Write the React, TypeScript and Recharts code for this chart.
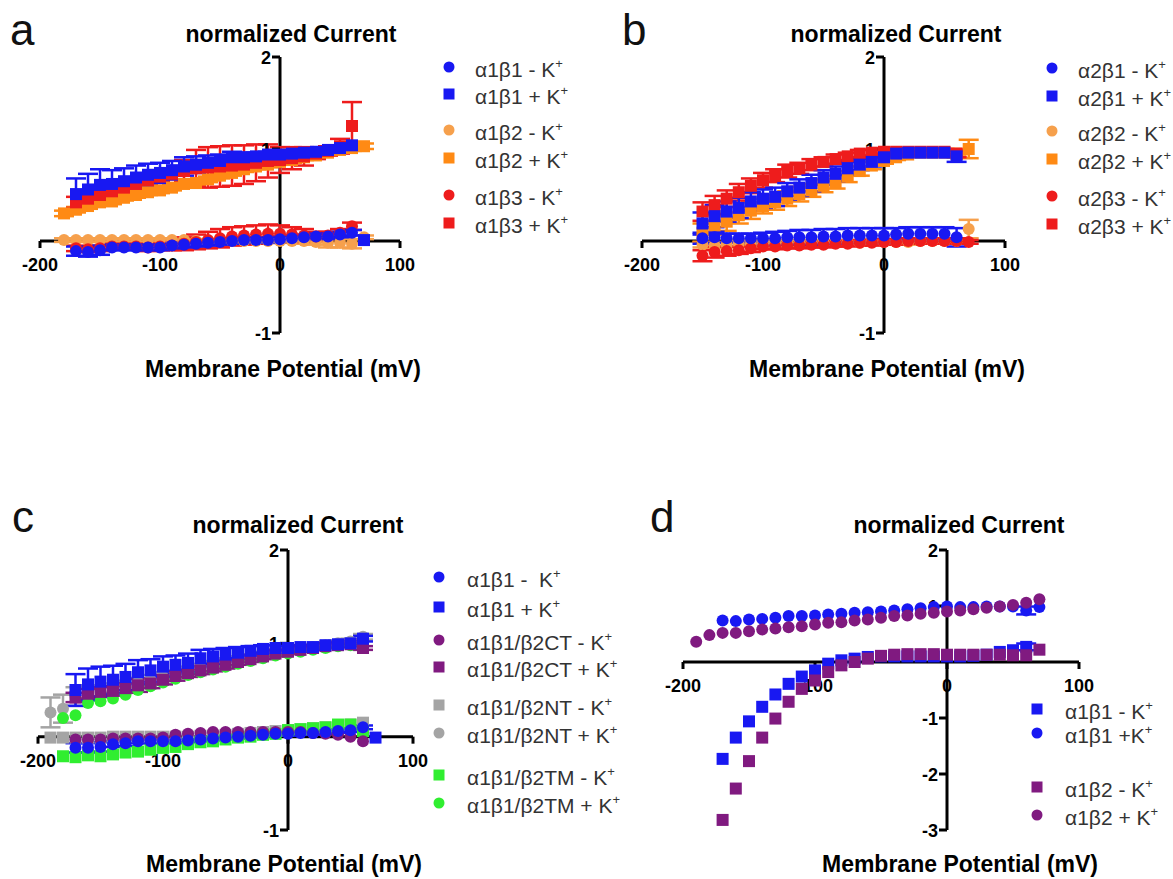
import React from 'react';
import { ScatterChart, Scatter, XAxis, YAxis, ReferenceLine, ReferenceDot, ErrorBar } from 'recharts';

const FONT = '"Liberation Sans", Arial, Helvetica, sans-serif';

const BLUE = '#1818f2';
const ORANGE_C = '#f6a04c';
const ORANGE_S = '#ff8a14';
const RED = '#ee1c1c';
const PURPLE = '#801a80';
const GRAY = '#a4a4a4';
const GREEN = '#30ee30';

type Shape = 'circle' | 'square';
type Series = {
  label: string;
  color: string;
  shape: Shape;
  values: (number | null)[];
  errors?: number[];
};

// membrane potential steps (mV)
const mvA = [-180, -170, -160, -150, -140, -130, -120, -110, -100, -90, -80, -70, -60, -50, -40, -30, -20, -10, 0, 10, 20, 30, 40, 50, 60, 70];
const mvB = [-150, -140, -130, -120, -110, -100, -90, -80, -70, -60, -50, -40, -30, -20, -10, 0, 10, 20, 30, 40, 50, 60, 70];
const mvC = [-190, -180, -170, -160, -150, -140, -130, -120, -110, -100, -90, -80, -70, -60, -50, -40, -30, -20, -10, 0, 10, 20, 30, 40, 50, 60, 70];
const mvD = [-190, -180, -170, -160, -150, -140, -130, -120, -110, -100, -90, -80, -70, -60, -50, -40, -30, -20, -10, 0, 10, 20, 30, 40, 50, 60, 70];

const xTicks = [-200, -100, 0, 100];
const yTicksABC = [2, 1, -1];
const yTicksD = [2, 1, -1, -2, -3];

// panel a
const a1b1MinusA = [null, -0.11, -0.12, -0.1, -0.07, -0.07, -0.07, -0.07, -0.07, -0.05, -0.04, -0.03, -0.02, -0.01, 0.0, 0.01, 0.01, 0.01, 0.02, 0.03, 0.04, 0.05, 0.05, 0.07, 0.09, null];
const a1b1MinusAErr = [0, 0.05, 0.05, 0.05, 0.03, 0.03, 0.03, 0.03, 0.03, 0.03, 0.03, 0.03, 0.03, 0.03, 0.03, 0.03, 0.03, 0.03, 0.03, 0.03, 0.03, 0.03, 0.03, 0.03, 0.03, 0];
const a1b1PlusA = [null, 0.51, 0.56, 0.61, 0.62, 0.65, 0.69, 0.72, 0.74, 0.77, 0.81, 0.83, 0.85, 0.87, 0.91, 0.91, 0.92, 0.94, 0.94, 0.95, 0.96, 0.97, 0.99, 1.01, 1.04, 0.01];
const a1b1PlusAErr = [0, 0.17, 0.17, 0.17, 0.15, 0.14, 0.13, 0.12, 0.11, 0.1, 0.1, 0.09, 0.08, 0.07, 0.06, 0.05, 0.04, 0.03, 0.02, 0.02, 0.02, 0.02, 0.02, 0.03, 0.03, 0];
const a1b2MinusA = [0.01, 0.01, 0.01, 0.01, 0.01, 0.01, 0.01, 0.01, 0.01, 0.01, 0.01, 0.0, 0.0, 0.0, 0.0, 0.0, 0.0, 0.0, 0.0, 0.0, 0.0, -0.01, -0.02, -0.02, -0.03, 0.04];
const a1b2MinusAErr = [0.02, 0.02, 0.02, 0.02, 0.02, 0.02, 0.02, 0.02, 0.02, 0.02, 0.02, 0.02, 0.02, 0.02, 0.02, 0.02, 0.02, 0.02, 0.02, 0.02, 0.03, 0.03, 0.05, 0.05, 0.05, 0.02];
const a1b2PlusA = [0.3, 0.34, 0.38, 0.42, 0.43, 0.47, 0.5, 0.53, 0.55, 0.58, 0.62, 0.63, 0.67, 0.71, 0.74, 0.78, 0.81, 0.83, 0.86, 0.88, 0.91, 0.93, 0.96, 0.99, 1.01, 1.03];
const a1b2PlusAErr = [0.03, 0.03, 0.03, 0.03, 0.03, 0.03, 0.03, 0.03, 0.03, 0.03, 0.03, 0.03, 0.03, 0.03, 0.03, 0.03, 0.03, 0.03, 0.03, 0.03, 0.03, 0.03, 0.03, 0.03, 0.03, 0.03];
const a1b3MinusA = [null, -0.08, -0.09, -0.08, -0.06, -0.06, -0.06, -0.07, -0.06, -0.05, -0.03, -0.01, 0.01, 0.03, 0.05, 0.06, 0.07, 0.08, 0.08, 0.07, 0.06, 0.05, 0.06, 0.09, 0.16, null];
const a1b3MinusAErr = [0, 0.03, 0.03, 0.03, 0.03, 0.03, 0.03, 0.04, 0.04, 0.05, 0.07, 0.08, 0.09, 0.1, 0.1, 0.1, 0.1, 0.1, 0.09, 0.08, 0.07, 0.05, 0.04, 0.04, 0.04, 0];
const a1b3PlusA = [null, 0.42, 0.46, 0.5, 0.54, 0.58, 0.62, 0.66, 0.7, 0.73, 0.76, 0.79, 0.8, 0.81, 0.82, 0.83, 0.85, 0.87, 0.88, 0.9, 0.92, 0.95, 0.98, 1.03, 1.25, null];
const a1b3PlusAErr = [0, 0.06, 0.06, 0.06, 0.06, 0.06, 0.06, 0.05, 0.05, 0.06, 0.12, 0.2, 0.22, 0.22, 0.22, 0.21, 0.2, 0.18, 0.14, 0.12, 0.1, 0.06, 0.05, 0.08, 0.26, 0];

// panel b
const a2b1MinusB = [0.03, 0.04, 0.03, 0.03, 0.03, 0.03, 0.03, 0.04, 0.04, 0.04, 0.05, 0.05, 0.06, 0.06, 0.06, 0.06, 0.07, 0.08, 0.08, 0.08, 0.08, 0.04, null];
const a2b1MinusBErr = [0.06, 0.06, 0.05, 0.05, 0.05, 0.06, 0.07, 0.07, 0.08, 0.08, 0.08, 0.08, 0.08, 0.08, 0.08, 0.08, 0.07, 0.07, 0.07, 0.07, 0.07, 0.1, 0];
const a2b1PlusB = [0.19, 0.27, 0.32, 0.36, 0.43, 0.46, 0.48, 0.54, 0.58, 0.63, 0.69, 0.73, 0.79, 0.83, 0.86, 0.91, 0.95, 0.96, 0.96, 0.96, 0.96, 0.92, null];
const a2b1PlusBErr = [0.12, 0.12, 0.11, 0.11, 0.1, 0.1, 0.1, 0.09, 0.09, 0.09, 0.08, 0.08, 0.07, 0.06, 0.05, 0.04, 0.03, 0.02, 0.02, 0.02, 0.03, 0.06, 0];
const a2b2MinusB = [-0.04, -0.05, -0.04, -0.03, -0.03, -0.03, -0.02, -0.02, -0.02, -0.02, -0.02, -0.02, -0.02, -0.02, -0.01, -0.01, -0.01, -0.01, 0.0, 0.0, 0.0, 0.0, 0.13];
const a2b2MinusBErr = [0.03, 0.03, 0.03, 0.03, 0.03, 0.03, 0.03, 0.03, 0.03, 0.03, 0.03, 0.03, 0.03, 0.03, 0.03, 0.03, 0.03, 0.03, 0.03, 0.03, 0.03, 0.03, 0.1];
const a2b2PlusB = [0.09, 0.17, 0.21, 0.28, 0.33, 0.38, 0.42, 0.46, 0.51, 0.55, 0.6, 0.64, 0.7, 0.76, 0.82, 0.87, 0.91, 0.94, 0.96, 0.96, 0.96, 0.95, 1.0];
const a2b2PlusBErr = [0.1, 0.1, 0.1, 0.09, 0.09, 0.08, 0.08, 0.08, 0.08, 0.07, 0.07, 0.07, 0.06, 0.05, 0.04, 0.03, 0.03, 0.02, 0.02, 0.02, 0.02, 0.03, 0.1];
const a2b3MinusB = [-0.16, -0.12, -0.11, -0.1, -0.08, -0.06, -0.06, -0.05, -0.05, -0.04, -0.04, -0.03, -0.03, -0.02, -0.02, -0.01, -0.01, 0.0, 0.0, 0.0, 0.0, 0.0, -0.01];
const a2b3MinusBErr = [0.06, 0.06, 0.05, 0.04, 0.04, 0.03, 0.03, 0.03, 0.03, 0.03, 0.03, 0.03, 0.03, 0.03, 0.03, 0.03, 0.03, 0.03, 0.03, 0.03, 0.03, 0.03, 0.02];
const a2b3PlusB = [0.32, 0.39, 0.46, 0.53, 0.6, 0.66, 0.71, 0.76, 0.79, 0.83, 0.86, 0.89, 0.92, 0.95, 0.96, 0.97, 0.97, 0.97, 0.97, 0.97, 0.97, 0.95, null];
const a2b3PlusBErr = [0.1, 0.1, 0.09, 0.09, 0.08, 0.08, 0.07, 0.07, 0.06, 0.06, 0.05, 0.05, 0.04, 0.04, 0.03, 0.03, 0.03, 0.03, 0.03, 0.03, 0.03, 0.04, 0];

// panel c
const a1b1MinusC = [null, null, -0.12, -0.12, -0.11, -0.08, -0.07, -0.05, -0.05, -0.05, -0.05, -0.04, -0.03, -0.02, -0.01, 0.0, 0.01, 0.02, 0.03, 0.03, 0.04, 0.04, 0.05, 0.06, 0.07, 0.1, null];
const a1b1MinusCErr = [0, 0, 0.05, 0.05, 0.05, 0.03, 0.03, 0.02, 0.02, 0.02, 0.02, 0.02, 0.02, 0.02, 0.02, 0.02, 0.02, 0.02, 0.02, 0.02, 0.02, 0.02, 0.02, 0.02, 0.02, 0.02, 0];
const a1b1PlusC = [null, null, 0.5, 0.56, 0.59, 0.61, 0.64, 0.69, 0.71, 0.75, 0.77, 0.79, 0.84, 0.86, 0.88, 0.9, 0.92, 0.94, 0.95, 0.95, 0.96, 0.96, 0.98, 0.99, 1.0, 1.05, -0.01];
const a1b1PlusCErr = [0, 0, 0.17, 0.17, 0.16, 0.15, 0.14, 0.13, 0.12, 0.11, 0.1, 0.1, 0.09, 0.08, 0.07, 0.06, 0.05, 0.04, 0.03, 0.02, 0.02, 0.02, 0.02, 0.02, 0.02, 0.03, 0];
const ctMinusC = [null, null, -0.03, -0.03, -0.03, -0.02, -0.02, -0.02, -0.02, -0.01, 0.02, 0.03, 0.04, 0.05, 0.05, 0.05, 0.05, 0.05, 0.05, 0.05, 0.05, 0.04, 0.03, 0.02, 0.0, -0.05, null];
const ctPlusC = [null, null, 0.42, 0.46, 0.48, 0.49, 0.52, 0.55, 0.57, 0.61, 0.65, 0.68, 0.71, 0.74, 0.77, 0.8, 0.83, 0.86, 0.89, 0.91, 0.93, 0.95, 0.97, 0.98, 0.99, 0.95, null];
const ctPlusCErr = [0, 0, 0.05, 0.05, 0.05, 0.05, 0.05, 0.07, 0.05, 0.05, 0.05, 0.04, 0.04, 0.04, 0.04, 0.03, 0.03, 0.03, 0.03, 0.02, 0.02, 0.02, 0.02, 0.02, 0.02, 0.02, 0];
const ntMinusC = [-0.01, -0.01, -0.01, -0.01, -0.01, 0.0, 0.0, 0.0, 0.0, 0.0, 0.0, 0.0, 0.01, 0.01, 0.02, 0.03, 0.04, 0.05, 0.06, 0.07, 0.08, 0.09, 0.1, 0.12, 0.13, 0.15, null];
const ntPlusC = [0.26, 0.3, 0.43, 0.47, 0.48, 0.52, 0.55, 0.58, 0.61, 0.64, 0.67, 0.71, 0.74, 0.77, 0.8, 0.83, 0.85, 0.88, 0.9, 0.92, 0.94, 0.96, 0.98, 1.0, 1.02, 1.07, null];
const ntPlusCErr = [0.16, 0.15, 0.1, 0.08, 0.06, 0.05, 0.05, 0.05, 0.05, 0.05, 0.04, 0.04, 0.04, 0.04, 0.04, 0.03, 0.03, 0.03, 0.03, 0.03, 0.03, 0.03, 0.03, 0.03, 0.03, 0.03, 0];
const tmMinusC = [null, -0.21, -0.22, -0.2, -0.21, -0.19, -0.17, -0.16, -0.14, -0.12, -0.11, -0.08, -0.06, -0.05, -0.03, -0.01, 0.0, 0.02, 0.03, 0.07, 0.08, 0.09, 0.1, 0.13, 0.13, 0.06, null];
const tmPlusC = [null, 0.2, 0.23, 0.36, 0.38, 0.41, 0.45, 0.5, 0.54, 0.58, 0.62, 0.66, 0.69, 0.72, 0.75, 0.78, 0.81, 0.84, 0.87, 0.89, 0.91, 0.93, 0.95, 0.97, 0.98, 1.0, null];

// panel d
const a1b1MinusD = [null, null, -1.73, -1.35, -1.06, -0.8, -0.58, -0.39, -0.26, -0.15, -0.03, 0.03, 0.06, 0.09, 0.1, 0.1, 0.1, 0.1, 0.1, 0.1, 0.1, 0.11, 0.13, 0.18, 0.21, 0.27, null];
const a1b1MinusDErr = [0, 0, 0, 0, 0, 0, 0, 0, 0, 0, 0, 0, 0, 0, 0, 0, 0, 0, 0, 0, 0, 0, 0, 0, 0, 0.06, 0];
const a1b1PlusD = [null, null, 0.74, 0.73, 0.76, 0.77, 0.79, 0.82, 0.82, 0.83, 0.85, 0.86, 0.88, 0.89, 0.9, 0.92, 0.94, 0.96, 0.98, 0.99, 0.98, 0.98, 0.99, 0.99, 0.99, 0.92, 0.98];
const a1b1PlusDErr = [0, 0, 0, 0, 0, 0, 0, 0, 0, 0, 0, 0, 0, 0, 0, 0, 0, 0, 0, 0, 0, 0, 0, 0, 0, 0.07, 0];
const a1b2MinusD = [null, null, -2.82, -2.26, -1.77, -1.35, -1.01, -0.71, -0.48, -0.33, -0.18, -0.06, 0.0, 0.06, 0.11, 0.13, 0.14, 0.14, 0.14, 0.13, 0.13, 0.13, 0.13, 0.13, 0.12, 0.12, 0.22];
const a1b2PlusD = [0.36, 0.48, 0.52, 0.52, 0.55, 0.58, 0.6, 0.62, 0.64, 0.67, 0.7, 0.71, 0.74, 0.76, 0.79, 0.82, 0.83, 0.86, 0.88, 0.9, 0.92, 0.94, 0.97, 0.99, 1.02, 1.06, 1.12];

const seriesA: Series[] = [
  { label: 'α1β1 - K', color: BLUE, shape: 'circle', values: a1b1MinusA, errors: a1b1MinusAErr },
  { label: 'α1β1 + K', color: BLUE, shape: 'square', values: a1b1PlusA, errors: a1b1PlusAErr },
  { label: 'α1β2 - K', color: ORANGE_C, shape: 'circle', values: a1b2MinusA, errors: a1b2MinusAErr },
  { label: 'α1β2 + K', color: ORANGE_S, shape: 'square', values: a1b2PlusA, errors: a1b2PlusAErr },
  { label: 'α1β3 - K', color: RED, shape: 'circle', values: a1b3MinusA, errors: a1b3MinusAErr },
  { label: 'α1β3 + K', color: RED, shape: 'square', values: a1b3PlusA, errors: a1b3PlusAErr },
];

const seriesB: Series[] = [
  { label: 'α2β1 - K', color: BLUE, shape: 'circle', values: a2b1MinusB, errors: a2b1MinusBErr },
  { label: 'α2β1 + K', color: BLUE, shape: 'square', values: a2b1PlusB, errors: a2b1PlusBErr },
  { label: 'α2β2 - K', color: ORANGE_C, shape: 'circle', values: a2b2MinusB, errors: a2b2MinusBErr },
  { label: 'α2β2 + K', color: ORANGE_S, shape: 'square', values: a2b2PlusB, errors: a2b2PlusBErr },
  { label: 'α2β3 - K', color: RED, shape: 'circle', values: a2b3MinusB, errors: a2b3MinusBErr },
  { label: 'α2β3 + K', color: RED, shape: 'square', values: a2b3PlusB, errors: a2b3PlusBErr },
];

const seriesC: Series[] = [
  { label: 'α1β1 -  K', color: BLUE, shape: 'circle', values: a1b1MinusC, errors: a1b1MinusCErr },
  { label: 'α1β1 + K', color: BLUE, shape: 'square', values: a1b1PlusC, errors: a1b1PlusCErr },
  { label: 'α1β1/β2CT - K', color: PURPLE, shape: 'circle', values: ctMinusC },
  { label: 'α1β1/β2CT + K', color: PURPLE, shape: 'square', values: ctPlusC, errors: ctPlusCErr },
  { label: 'α1β1/β2NT - K', color: GRAY, shape: 'square', values: ntMinusC },
  { label: 'α1β1/β2NT + K', color: GRAY, shape: 'circle', values: ntPlusC, errors: ntPlusCErr },
  { label: 'α1β1/β2TM - K', color: GREEN, shape: 'square', values: tmMinusC },
  { label: 'α1β1/β2TM + K', color: GREEN, shape: 'circle', values: tmPlusC },
];

const seriesD: Series[] = [
  { label: 'α1β1 - K', color: BLUE, shape: 'square', values: a1b1MinusD, errors: a1b1MinusDErr },
  { label: 'α1β1 +K', color: BLUE, shape: 'circle', values: a1b1PlusD, errors: a1b1PlusDErr },
  { label: 'α1β2 - K', color: PURPLE, shape: 'square', values: a1b2MinusD },
  { label: 'α1β2 + K', color: PURPLE, shape: 'circle', values: a1b2PlusD },
];

const toPoints = (mv: number[], s: Series) =>
  mv.flatMap((x, i) => {
    const y = s.values[i];
    return y == null ? [] : [{ x, y, e: s.errors ? s.errors[i] : 0 }];
  });

const markerShape = (shape: Shape, color: string, size: number) => (p: any) => {
  const { cx, cy } = p;
  if (cx == null || cy == null) return <g />;
  return shape === 'circle' ? (
    <circle cx={cx} cy={cy} r={size / 2} fill={color} />
  ) : (
    <rect x={cx - size / 2} y={cy - size / 2} width={size} height={size} fill={color} />
  );
};

const tickText = { fontFamily: FONT, fontSize: 18, fontWeight: 700, fill: '#000' } as const;

const xTickShape = (label: string) => (p: any) => (
  <g>
    <line x1={p.cx} y1={p.cy} x2={p.cx} y2={p.cy + 7} stroke="#000" strokeWidth={3} />
    <text x={p.cx} y={p.cy + 30} textAnchor="middle" {...tickText}>
      {label}
    </text>
  </g>
);

const yTickShape = (label: string) => (p: any) => (
  <g>
    <line x1={p.cx - 8} y1={p.cy} x2={p.cx} y2={p.cy} stroke="#000" strokeWidth={3} />
    <text x={p.cx - 9} y={p.cy + 7} textAnchor="end" {...tickText}>
      {label}
    </text>
  </g>
);

type PanelProps = {
  mv: number[];
  series: Series[];
  order: number[];
  yDomain: [number, number];
  yTicks: number[];
  left: number;
  top: number;
  width: number;
  height: number;
  margin: { top: number; right: number; bottom: number; left: number };
  size: number;
};

function Panel({ mv, series, order, yDomain, yTicks, left, top, width, height, margin, size }: PanelProps) {
  return (
    <div style={{ position: 'absolute', left, top }}>
      <ScatterChart width={width} height={height} margin={margin}>
        <XAxis type="number" dataKey="x" domain={[-200, 100]} hide />
        <YAxis type="number" dataKey="y" domain={yDomain} hide />
        {xTicks.map((t) => (
          <ReferenceDot key={`x${t}`} x={t} y={0} shape={xTickShape(String(t))} />
        ))}
        {yTicks.map((t) => (
          <ReferenceDot key={`y${t}`} x={0} y={t} shape={yTickShape(String(t))} />
        ))}
        <ReferenceLine y={0} stroke="#000" strokeWidth={3} />
        <ReferenceLine x={0} stroke="#000" strokeWidth={3} />
        {order.map((i) => {
          const s = series[i];
          return (
            <Scatter
              key={s.label}
              name={s.label}
              data={toPoints(mv, s)}
              shape={markerShape(s.shape, s.color, size)}
              isAnimationActive={false}
            >
              {s.errors && (
                <ErrorBar
                  dataKey="e"
                  direction="y"
                  width={10}
                  stroke={s.color}
                  strokeWidth={2.5}
                  isAnimationActive={false}
                />
              )}
            </Scatter>
          );
        })}
      </ScatterChart>
    </div>
  );
}

function LegendBlock({ series, rows, markerX, textX }: { series: Series[]; rows: number[]; markerX: number; textX: number }) {
  return (
    <g>
      {series.map((s, i) => (
        <g key={s.label}>
          {s.shape === 'circle' ? (
            <circle cx={markerX} cy={rows[i]} r={5.5} fill={s.color} />
          ) : (
            <rect x={markerX - 5.5} y={rows[i] - 5.5} width={11} height={11} fill={s.color} />
          )}
          <text x={textX} y={rows[i] + 10} fontFamily={FONT} fontSize={21} fill="#333" style={{ whiteSpace: 'pre' }}>
            {s.label}
            <tspan dy={-9} fontSize={13}>
              +
            </tspan>
          </text>
        </g>
      ))}
    </g>
  );
}

const titles = [
  { x: 291, y: 42 },
  { x: 896, y: 42 },
  { x: 298, y: 533 },
  { x: 959, y: 533 },
];
const xLabels = [
  { x: 283, y: 377 },
  { x: 887, y: 377 },
  { x: 284, y: 872 },
  { x: 960, y: 872 },
];
const letters = [
  { t: 'a', x: 10, y: 45 },
  { t: 'b', x: 622, y: 45 },
  { t: 'c', x: 12, y: 532 },
  { t: 'd', x: 650, y: 532 },
];

export default function App() {
  return (
    <div style={{ position: 'absolute', left: 0, top: 0, width: 1173, height: 879, background: '#fff', overflow: 'hidden' }}>
      <svg width={1173} height={879} style={{ position: 'absolute', left: 0, top: 0 }}>
        {letters.map((l) => (
          <text key={l.t} x={l.x} y={l.y} fontFamily={FONT} fontSize={44} fill="#111">
            {l.t}
          </text>
        ))}
        {titles.map((p, i) => (
          <text key={`t${i}`} x={p.x} y={p.y} textAnchor="middle" fontFamily={FONT} fontSize={23} fontWeight={700} fill="#000">
            normalized Current
          </text>
        ))}
        {xLabels.map((p, i) => (
          <text key={`l${i}`} x={p.x} y={p.y} textAnchor="middle" fontFamily={FONT} fontSize={23} fontWeight={700} fill="#000">
            Membrane Potential (mV)
          </text>
        ))}
        <LegendBlock series={seriesA} rows={[67, 94, 130, 158, 195, 223]} markerX={449} textX={475} />
        <LegendBlock series={seriesB} rows={[68, 96, 131, 159, 196, 224]} markerX={1052} textX={1078} />
        <LegendBlock series={seriesC} rows={[577, 607, 640, 667, 705, 733, 775, 803]} markerX={439} textX={467} />
        <LegendBlock series={seriesD} rows={[709, 733, 787, 815]} markerX={1037} textX={1065} />
      </svg>
      <Panel
        mv={mvA}
        series={seriesA}
        order={[2, 3, 5, 4, 0, 1]}
        yDomain={[-1, 2]}
        yTicks={yTicksABC}
        left={0}
        top={0}
        width={420}
        height={360}
        margin={{ top: 57, left: 40, right: 20, bottom: 27 }}
        size={12}
      />
      <Panel
        mv={mvB}
        series={seriesB}
        order={[2, 3, 5, 4, 0, 1]}
        yDomain={[-1, 2]}
        yTicks={yTicksABC}
        left={600}
        top={0}
        width={420}
        height={360}
        margin={{ top: 57, left: 42, right: 15, bottom: 27 }}
        size={12}
      />
      <Panel
        mv={mvC}
        series={seriesC}
        order={[4, 5, 6, 7, 2, 3, 0, 1]}
        yDomain={[-1, 2]}
        yTicks={yTicksABC}
        left={0}
        top={500}
        width={430}
        height={360}
        margin={{ top: 50, left: 38, right: 17, bottom: 30 }}
        size={12}
      />
      <Panel
        mv={mvD}
        series={seriesD}
        order={[0, 1, 2, 3]}
        yDomain={[-3, 2]}
        yTicks={yTicksD}
        left={640}
        top={500}
        width={460}
        height={360}
        margin={{ top: 50, left: 43, right: 21, bottom: 30 }}
        size={12}
      />
    </div>
  );
}
